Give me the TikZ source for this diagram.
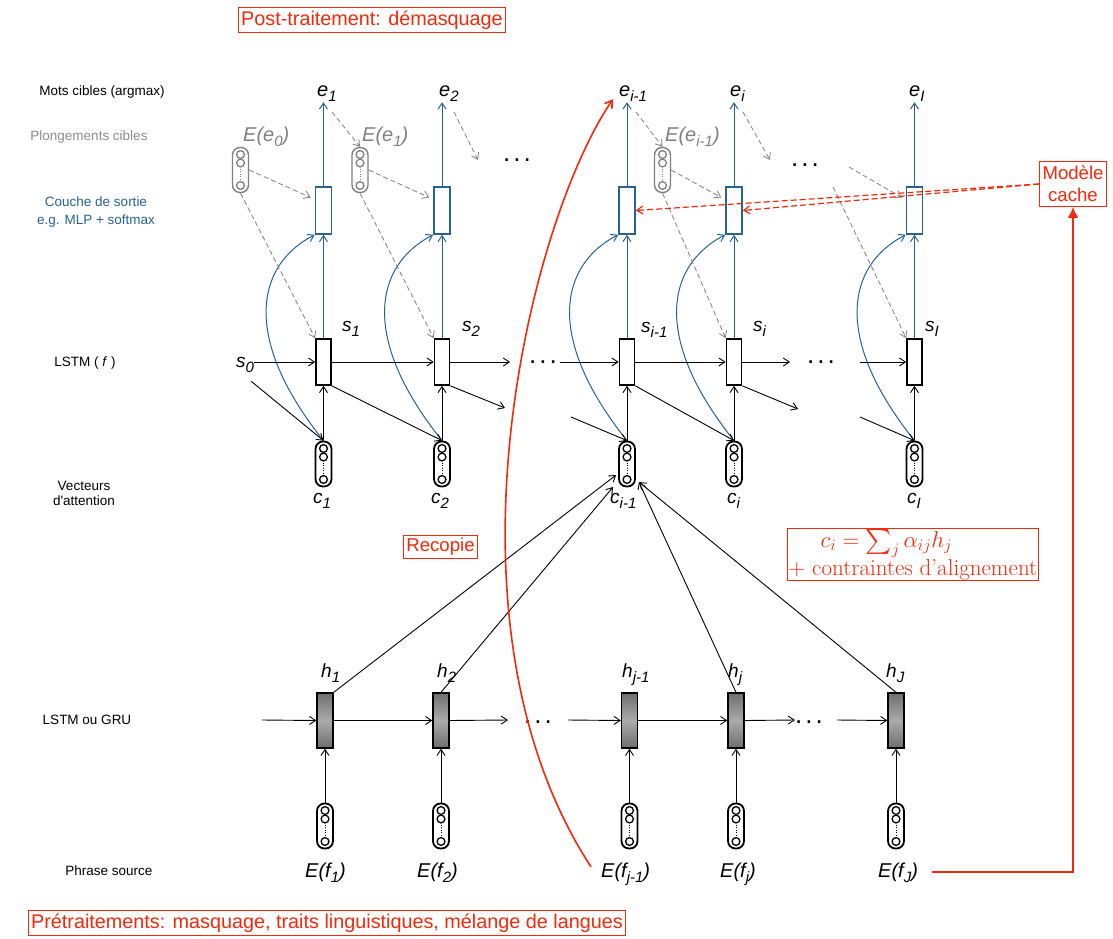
\RequirePackage{fix-cm}
\documentclass[tikz,border=0pt]{standalone}
\usepackage{exscale}
\usepackage{fontspec}
\newfontfamily\hv{Liberation Sans}
\usetikzlibrary{arrows.meta,calc}
\definecolor{dblue}{RGB}{38,98,148}
\definecolor{egray}{RGB}{128,128,128}
\definecolor{ared}{RGB}{245,40,10}
\definecolor{lgray}{RGB}{140,140,140}
\newcommand\sbs[1]{\raisebox{-5pt}{\fontsize{15}{15}\selectfont #1}}
\newcommand\vecinner[1]{%
  \draw[#1,line width=1.3pt] ($(path picture bounding box.north)+(0,7)$) circle[radius=3.9pt];
  \draw[#1,line width=1.3pt] ($(path picture bounding box.north)+(0,15.5)$) circle[radius=3.9pt];
  \draw[#1,line width=1.3pt] ($(path picture bounding box.south)+(0,-7)$) circle[radius=3.9pt];
  \draw[#1,line width=0.6pt,dotted] ($(path picture bounding box.north)+(0,21)$) -- ($(path picture bounding box.south)+(0,-12.5)$);}
\begin{document}
\begin{tikzpicture}[x=1pt,y=-1pt,
  ar/.style={-{Straight Barb[length=6pt,width=8pt]}, line width=0.9pt},
  bar/.style={-{Straight Barb[length=6pt,width=8pt]}, line width=1pt, draw=dblue},
  bcurve/.style={-{Straight Barb[length=6pt,width=8pt]}, line width=1pt, draw=dblue},
  gd/.style={-{Straight Barb[length=6pt,width=8pt]}, line width=0.8pt, draw=egray, dash pattern=on 5pt off 3pt},
  rcurve/.style={-{Straight Barb[length=7pt,width=9pt]}, line width=1.6pt, draw=ared},
  rdash/.style={-{Straight Barb[length=6pt,width=8pt]}, line width=1.2pt, draw=ared, dash pattern=on 6pt off 3pt},
  rsolid/.style={-{Latex[length=11pt,width=11pt]}, line width=2pt, draw=ared},
  obox/.style={draw=dblue, line width=1.6pt, minimum width=16pt, minimum height=47pt, inner sep=0pt, fill=white},
  sbox/.style={draw, line width=1.7pt, minimum width=15pt, minimum height=46pt, inner sep=0pt, fill=white},
  hbox/.style={draw, line width=1.4pt, minimum width=16pt, minimum height=55pt, inner sep=0pt, top color=black!57, bottom color=black!57, middle color=black!33},
  vec/.style={draw=#1, line width=1.8pt, rounded corners=7.5pt, minimum width=16pt, minimum height=45pt, inner sep=0pt, fill=white, path picture={\vecinner{#1}}},
  vec/.default=black,
  lab/.style={font=\hv\itshape\fontsize{20}{20}\selectfont, inner sep=0pt, anchor=base west},
  slab/.style={font=\hv\itshape\fontsize{19}{19}\selectfont, inner sep=0pt, anchor=base west},
  sidelab/.style={font=\hv\fontsize{13.5}{18}\selectfont, inner sep=0pt},
  rbox/.style={draw=ared, text=ared, line width=1pt, inner sep=3pt, font=\hv\fontsize{19.8}{22}\selectfont},
  dotsn/.style={inner sep=0pt, font=\hv\fontsize{26}{26}\selectfont}
]
\useasboundingbox (0,0) rectangle (1113,939);

% ---------- left labels
\node[sidelab] (lmots) at (102,92) {Mots cibles (argmax)};
\node[sidelab,text=lgray] (lplong) at (89,137) {Plongements cibles};
\node[sidelab,text=dblue,align=center] (lcouche) at (96,212) {Couche de sortie\\e.g. MLP + softmax};
\node[sidelab] (llstm) at (85,363) {LSTM ( \textit{f} )};
\node[sidelab,align=center,font=\hv\fontsize{13.5}{15}\selectfont] (lvect) at (84,493.5) {Vecteurs\\d'attention};
\node[sidelab] (lgru) at (87,720) {LSTM ou GRU};
\node[sidelab] (lsrc) at (109,871) {Phrase source};

% ---------- decoder columns
\foreach \n/\x in {1/323.5,2/442,3/627,4/734,5/914.5}{
  \node[obox] (o\n) at (\x,210.5) {};
  \node[sbox] (s\n) at (\x,362) {};
  \node[vec] (c\n) at (\x,464) {};
}
% gray embedding vectors
\node[vec=egray, line width=1.4pt] (g0) at (240.5,170) {};
\node[vec=egray, line width=1.4pt] (g1) at (360,170) {};
\node[vec=egray, line width=1.4pt] (g3) at (662.5,170) {};

% ---------- encoder columns
\foreach \n/\x in {1/325,2/441,3/629.5,4/736,5/896}{
  \node[hbox] (h\n) at (\x,720.5) {};
  \node[vec] (f\n) at (\x,826) {};
  \draw[ar] (f\n.north) -- (h\n.south);
}

% ---------- labels
\node[lab] (e1) at (317,97) {e\sbs{1}};
\node[lab] (e2) at (439,97) {e\sbs{2}};
\node[lab] (e3) at (619,97) {e\sbs{i-1}};
\node[lab] (e4) at (730,97) {e\sbs{i}};
\node[lab] (e5) at (909,97) {e\sbs{I}};
\node[lab,text=egray] (le0) at (243,142) {E(e\sbs{0})};
\node[lab,text=egray] (le1) at (362,142) {E(e\sbs{1})};
\node[lab,text=egray] (le3) at (665,142) {E(e\sbs{i-1})};
\node[slab] (s0) at (236,367) {s\sbs{0}};
\node[slab] (ls1) at (342,331) {s\sbs{1}};
\node[slab] (ls2) at (462,331) {s\sbs{2}};
\node[slab] (ls3) at (641,332) {s\sbs{i-1}};
\node[slab] (ls4) at (753,331) {s\sbs{i}};
\node[slab] (ls5) at (925,331) {s\sbs{I}};
\node[slab] (lc1) at (313,503) {c\sbs{1}};
\node[slab] (lc2) at (431,503) {c\sbs{2}};
\node[slab] (lc3) at (610,503) {c\sbs{i-1}};
\node[slab] (lc4) at (727,503) {c\sbs{i}};
\node[slab] (lc5) at (907,503) {c\sbs{I}};
\node[slab] (lh1) at (321,677) {h\sbs{1}};
\node[slab] (lh2) at (437,677) {h\sbs{2}};
\node[slab] (lh3) at (622,677) {h\sbs{j-1}};
\node[slab] (lh4) at (728,677) {h\sbs{j}};
\node[slab] (lh5) at (886,677) {h\sbs{J}};
\node[lab] (Ef1) at (305,877) {E(f\sbs{1})};
\node[lab] (Ef2) at (417,877) {E(f\sbs{2})};
\node[lab] (Ef3) at (601,877) {E(f\sbs{j-1})};
\node[lab] (Ef4) at (720,877) {E(f\sbs{j})};
\node[lab] (Ef5) at (878,877) {E(f\sbs{J})};

% dots
\node[dotsn] (dd1) at (517,160) {.\hspace{3pt}.\hspace{3pt}.};
\node[dotsn] (dd2) at (805,165) {.\hspace{3pt}.\hspace{3pt}.};
\node[dotsn] (ds1) at (543,362) {.\hspace{3pt}.\hspace{3pt}.};
\node[dotsn] (ds2) at (821,362) {.\hspace{3pt}.\hspace{3pt}.};
\node[dotsn] (dh1) at (538,722) {.\hspace{3pt}.\hspace{3pt}.};
\node[dotsn] (dh2) at (809,722) {.\hspace{3pt}.\hspace{3pt}.};

% red annotation boxes
\node[rbox] (post) at (372,20) {Post-traitement: démasquage};
\node[rbox] (pre) at (327,923) {Prétraitements: masquage, traits linguistiques, mélange de langues};
\node[rbox,font=\hv\fontsize{18.6}{22}\selectfont] (recopie) at (440.5,547) {Recopie};
\node[rbox,font=\hv\fontsize{18.6}{22}\selectfont,align=center,inner ysep=4.5pt] (cache) at (1073,184) {Modèle\\cache};
\node[rbox,font=\fontsize{23}{24}\selectfont,align=left,inner sep=1pt] (formula) at (913,554.5) {\hspace*{32pt}$c_i=\sum_j\alpha_{ij}h_j$\\+ contraintes d'alignement};

% free coordinates
\coordinate (cs2) at (510,362);
\coordinate (cs2d) at (505,408);
\coordinate (cs3in) at (560,362);
\coordinate (cs3d) at (571,417);
\coordinate (cs4) at (790,362);
\coordinate (cs4d) at (798,409);
\coordinate (cs5in) at (860,362);
\coordinate (cs5d) at (860,417);
\coordinate (ch0) at (262,720);
\coordinate (ch2) at (508,720);
\coordinate (ch3in) at (568,720);
\coordinate (ch4) at (795,720);
\coordinate (ch5in) at (837,720);
\coordinate (ge2) at (478,160);
\coordinate (ge4) at (770,160);
\coordinate (gd1) at (849,167);
\coordinate (gd2) at (833,187);

% ---------- decoder connectors
\foreach \n in {1,...,5}{
  \draw[bar] (s\n.north) -- (o\n.south);
  \draw[bar] (o\n.north) -- (o\n.north |- e\n.south);
  \draw[ar] (c\n.north) -- (s\n.south);
  \draw[bcurve] (c\n.north) .. controls +(-81,-101) and +(-60,31) .. (o\n.south west);
}
\draw[ar] (s0.east |- s1.west) -- (s1.west);
\draw[ar] ($(s0.south east)+(-3,9)$) -- (c1.north);
\draw[ar] (s1.east) -- (s2.west);
\draw[ar] (s1.south east) -- (c2.north);
\draw[ar] (s2.east) -- (cs2);
\draw[ar] (s2.south east) -- (cs2d);
\draw[ar] (cs3in) -- (s3.west);
\draw[ar] (cs3d) -- (c3.north);
\draw[ar] (s3.east) -- (s4.west);
\draw[ar] (s3.south east) -- (c4.north);
\draw[ar] (s4.east) -- (cs4);
\draw[ar] (s4.south east) -- (cs4d);
\draw[ar] (cs5in) -- (s5.west);
\draw[ar] (cs5d) -- (c5.north);

% gray dashed (embedding feedback)
\draw[gd] ($(e1.base west)+(15,15)$) -- (g1.north);
\draw[gd] (g0.east) -- ($(o1.west)+(-4,-13)$);
\draw[gd] (g0.south) -- (s1.north west);
\draw[gd] ($(e2.base west)+(15,15)$) -- (ge2);
\draw[gd] (g1.east) -- ($(o2.west)+(-4,-13)$);
\draw[gd] (g1.south) -- (s2.north west);
\draw[gd] ($(e3.base west)+(17,15)$) -- (g3.north);
\draw[gd] (g3.east) -- ($(o4.west)+(-4,-13)$);
\draw[gd] (g3.south) -- (s4.north west);
\draw[gd] ($(e4.base west)+(13,15)$) -- (ge4);
\draw[gd] (gd1) -- ($(o5.west)+(-4,-13)$);
\draw[gd] (gd2) -- (s5.north west);

% ---------- encoder connectors
\draw[ar] (ch0) -- (h1.west);
\draw[ar] (h1.east) -- (h2.west);
\draw[ar] (h2.east) -- (ch2);
\draw[ar] (ch3in) -- (h3.west);
\draw[ar] (h3.east) -- (h4.west);
\draw[ar] (h4.east) -- (ch4);
\draw[ar] (ch5in) -- (h5.west);

% attention
\draw[ar] (h1.north east) -- ($(c3.west)+(-2,11)$);
\draw[ar] (h2.north) -- ($(c3.west)+(-5,23)$);
\draw[ar] (h4.north) -- ($(c3.east)+(3,18)$);
\draw[ar] (h5.north) -- ($(c3.east)+(3,18)$);

% ---------- red connectors
\draw[rcurve] ($(Ef3.west)+(-10,-7)$) .. controls (430,620) and (530,220) .. ($(e3.south west)+(-6,-3)$);
\draw[rdash] (cache.west) -- (o3.east);
\draw[rdash] (cache.west) -- (o4.east);
\draw[rsolid] ($(Ef5.east)+(14,0)$) -| (cache.south);
\end{tikzpicture}
\end{document}
